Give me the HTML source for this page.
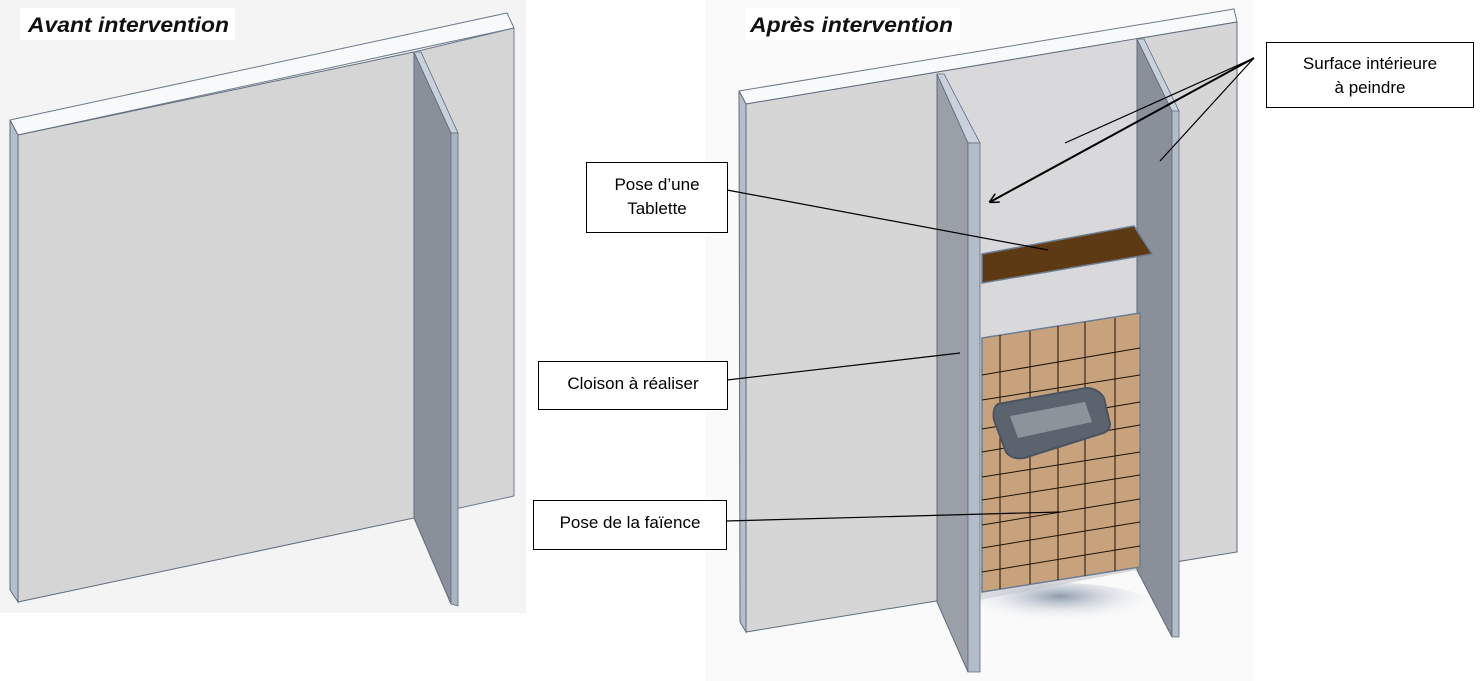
<!DOCTYPE html>
<html><head><meta charset="utf-8"><style>
html,body{margin:0;padding:0;background:#fff;}
svg{display:block;}
text{font-family:"Liberation Sans",sans-serif;}
</style></head><body>
<svg width="1482" height="681" viewBox="0 0 1482 681" xmlns="http://www.w3.org/2000/svg">
<defs>
<radialGradient id="sh" cx="0.5" cy="0.3" r="0.6">
<stop offset="0" stop-color="#8f9cae"/><stop offset="1" stop-color="#ffffff" stop-opacity="0"/>
</radialGradient>
<marker id="ar" viewBox="0 0 10 10" refX="9" refY="5" markerWidth="10" markerHeight="10" orient="auto-start-reverse" markerUnits="userSpaceOnUse">
<path d="M0,0 L10,5 L0,10" fill="none" stroke="#000" stroke-width="1.5"/>
</marker>
</defs>
<!-- LEFT PANEL -->
<rect x="0" y="0" width="526" height="613" fill="#f4f4f4"/>
<rect x="20" y="8" width="215" height="32" fill="#fff"/>
<polygon points="10,120 507,13 514,28 18,135" fill="#f8f9fb" stroke="#6d7a8c" stroke-width="1"/>
<polygon points="414,52 514,28 514,496 414,518" fill="#d5d5d5" stroke="#6d7a8c" stroke-width="1"/>
<polygon points="18,135 414,52 414,518 18,602" fill="#d5d5d5" stroke="#5f6c7e" stroke-width="1"/>
<polygon points="10,120 18,135 18,602 10,590" fill="#b5bfcc" stroke="#5f6c7e" stroke-width="1"/>
<polygon points="414,52 451,133 451,604 414,518" fill="#8a9099" stroke="#5f6c7e" stroke-width="1"/>
<polygon points="414,52 421,52 458,133 451,133" fill="#c9d1dc" stroke="#5f6c7e" stroke-width="0.8"/>
<polygon points="451,133 458,133 458,606 451,604" fill="#a9b3c1" stroke="#5f6c7e" stroke-width="0.8"/>
<text x="28" y="32" font-size="21" font-weight="bold" font-style="italic" fill="#111" textLength="201" lengthAdjust="spacingAndGlyphs">Avant intervention</text>

<!-- RIGHT PANEL -->
<rect x="705" y="0" width="548" height="681" fill="#fafafa"/>
<polygon points="739,91 1234,9 1237,22 746,104" fill="#f8f9fb" stroke="#6d7a8c" stroke-width="1"/>
<polygon points="746,104 1237,22 1237,552 746,632" fill="#d6d6d6" stroke="#5f6c7e" stroke-width="1"/>
<polygon points="739,91 746,104 746,632 740,622" fill="#b5bfcc" stroke="#5f6c7e" stroke-width="1"/>
<polygon points="937,74 1137,39 1137,570 980,600 980,143" fill="#d9d9db"/>
<ellipse cx="1060" cy="605" rx="90" ry="22" fill="url(#sh)"/>
<!-- right partition -->
<polygon points="1137,39 1172,111 1172,637 1137,570" fill="#8a9099" stroke="#5f6c7e" stroke-width="1"/>
<polygon points="1137,39 1144,39 1179,111 1172,111" fill="#c9d1dc" stroke="#5f6c7e" stroke-width="0.8"/>
<polygon points="1172,111 1179,111 1179,637 1172,637" fill="#b3bdca" stroke="#5f6c7e" stroke-width="0.8"/>
<!-- shelf -->
<polygon points="982,254 1134,226 1152,254 982,283" fill="#5e3a14" stroke="#6c7d92" stroke-width="1.5"/>
<!-- tiles -->
<polygon points="982,338 1140,313 1140,567 982,592" fill="#c8a27c" stroke="#6c7d92" stroke-width="1.5"/>
<g stroke="#1b1308" stroke-width="1">
<line x1="1000" y1="335" x2="1000" y2="589"/>
<line x1="1030" y1="331" x2="1030" y2="584"/>
<line x1="1058" y1="326" x2="1058" y2="580"/>
<line x1="1085" y1="322" x2="1085" y2="576"/>
<line x1="1115" y1="318" x2="1115" y2="571"/>
<line x1="982" y1="375" x2="1140" y2="348"/>
<line x1="982" y1="400" x2="1140" y2="375"/>
<line x1="982" y1="429" x2="1140" y2="402"/>
<line x1="982" y1="452" x2="1140" y2="425"/>
<line x1="982" y1="477" x2="1140" y2="452"/>
<line x1="982" y1="500" x2="1140" y2="475"/>
<line x1="982" y1="525" x2="1140" y2="499"/>
<line x1="982" y1="548" x2="1140" y2="522"/>
<line x1="982" y1="572" x2="1140" y2="546"/>
</g>
<path d="M998,404 L1086,388 Q1098,388 1104,398 L1110,424 Q1110,432 1100,434 L1024,458 Q1012,460 1006,452 L994,420 Q992,408 998,404 Z" fill="#5b646e" stroke="#4a5461" stroke-width="2"/>
<polygon points="1010,416 1085,402 1092,422 1018,438" fill="#8b939b"/>
<!-- left partition -->
<polygon points="937,74 968,143 968,672 937,602" fill="#9aa0a8" stroke="#5f6c7e" stroke-width="1"/>
<polygon points="937,74 944,74 980,143 968,143" fill="#c9d1dc" stroke="#5f6c7e" stroke-width="0.8"/>
<polygon points="968,143 980,143 980,672 968,672" fill="#b3bdca" stroke="#5f6c7e" stroke-width="0.8"/>
<rect x="745" y="8" width="215" height="32" fill="#fff"/>
<text x="750" y="32" font-size="21" font-weight="bold" font-style="italic" fill="#111" textLength="203" lengthAdjust="spacingAndGlyphs">Après intervention</text>

<g stroke="#000" stroke-width="1.2" fill="none">
<line x1="1254" y1="58" x2="1065" y2="143"/>
<line x1="1254" y1="58" x2="1160" y2="161"/>
<line x1="1254" y1="58" x2="990" y2="202" stroke-width="2" marker-end="url(#ar)"/>
<line x1="727" y1="190" x2="1048" y2="250"/>
<line x1="727" y1="380" x2="960" y2="353"/>
<line x1="726" y1="521" x2="1060" y2="512"/>
</g>
<g fill="#fff" stroke="#000" stroke-width="1">
<rect x="1266.5" y="42.5" width="207" height="65"/>
<rect x="586.5" y="162.5" width="141" height="70"/>
<rect x="538.5" y="361.5" width="189" height="48"/>
<rect x="533.5" y="500.5" width="193" height="49"/>
</g>
<g font-size="17" fill="#000" text-anchor="middle">
<text x="1370" y="69">Surface intérieure</text>
<text x="1370" y="93">à peindre</text>
<text x="657" y="190">Pose d’une</text>
<text x="657" y="214">Tablette</text>
<text x="633" y="389">Cloison à réaliser</text>
<text x="630" y="528">Pose de la faïence</text>
</g>
</svg>
</body></html>
